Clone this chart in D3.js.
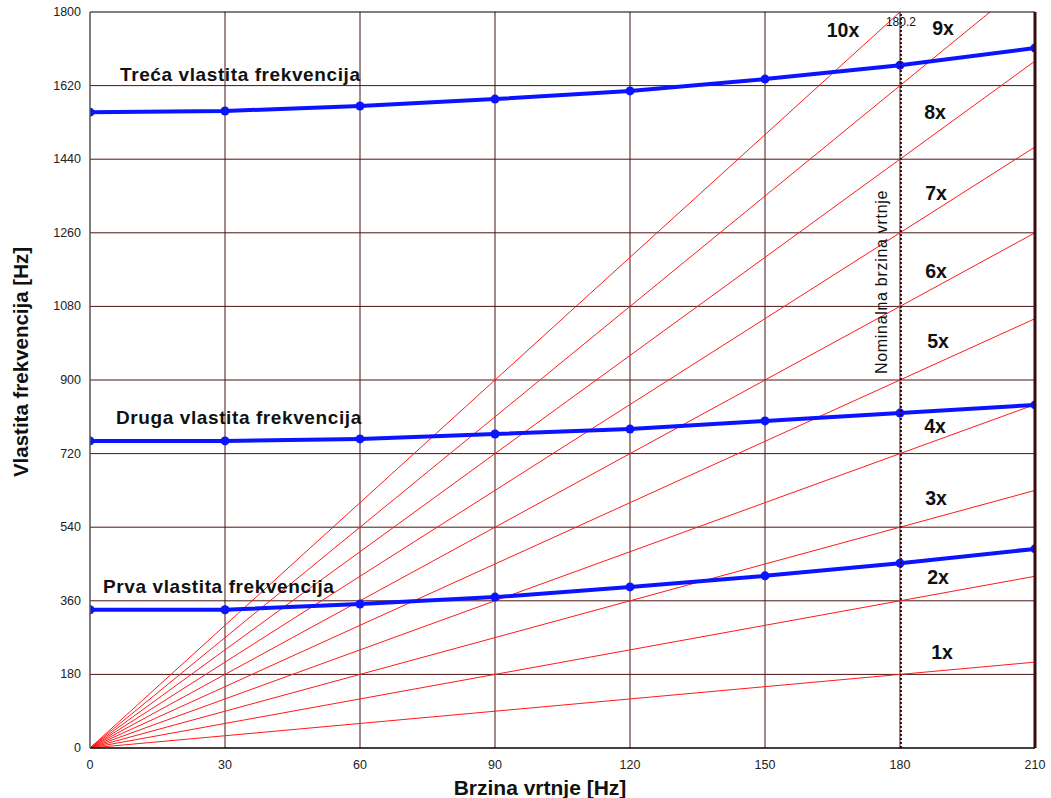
<!DOCTYPE html>
<html>
<head>
<meta charset="utf-8">
<title>Campbell</title>
<script src="https://cdn.jsdelivr.net/npm/d3@7"></script>
<style>
body { margin:0; background:#fff; }
text { font-family: Arial, "Liberation Sans", sans-serif; }
</style>
</head>
<body>
<div id="chart"></div>
<script>
// data
var speeds = [0, 30, 60, 90, 120, 150, 180, 210];
var prva = [338, 338, 352, 369, 394, 421, 452, 487];
var druga = [751, 751, 756, 768, 780, 800, 819, 839];
var treca = [1555, 1558, 1570, 1587, 1607, 1636, 1670, 1712];
var orders = [1, 2, 3, 4, 5, 6, 7, 8, 9, 10];
var xTicks = [0, 30, 60, 90, 120, 150, 180, 210];
var yTicks = [0, 180, 360, 540, 720, 900, 1080, 1260, 1440, 1620, 1800];
var nominal = 180.2;

var W = 1051, H = 798;
var m = {l: 90, r: 16, t: 12, b: 50};

var svg = d3.select("#chart").append("svg").attr("width", W).attr("height", H);

var x = d3.scaleLinear().domain([0, 210]).range([m.l, W - m.r]);
var y = d3.scaleLinear().domain([0, 1800]).range([H - m.b, m.t]);

svg.append("defs").append("clipPath").attr("id", "clip")
  .append("rect").attr("x", x(0)).attr("y", y(1800))
  .attr("width", x(210) - x(0)).attr("height", y(0) - y(1800));

var grid = "#4d1414";
// grid lines
svg.append("g").selectAll("line").data(xTicks.slice(1, -1)).enter().append("line")
  .attr("x1", d => x(d)).attr("x2", d => x(d)).attr("y1", y(0)).attr("y2", y(1800))
  .attr("stroke", grid).attr("stroke-width", 1);
svg.append("g").selectAll("line").data(yTicks.slice(1, -1)).enter().append("line")
  .attr("x1", x(0)).attr("x2", x(210)).attr("y1", d => y(d)).attr("y2", d => y(d))
  .attr("stroke", grid).attr("stroke-width", 1);

var plot = svg.append("g").attr("clip-path", "url(#clip)");

// order lines
plot.selectAll(".ord").data(orders).enter().append("line")
  .attr("x1", x(0)).attr("y1", y(0))
  .attr("x2", x(210)).attr("y2", k => y(k * 210))
  .attr("stroke", "#ff1a1a").attr("stroke-width", 1);

// nominal speed
svg.append("line").attr("x1", x(nominal)).attr("x2", x(nominal))
  .attr("y1", y(0)).attr("y2", y(1800))
  .attr("stroke", "#3a0808").attr("stroke-width", 2).attr("stroke-dasharray", "2,2");

// natural frequency curves
var line = d3.line().x((d, i) => x(speeds[i])).y(d => y(d));
[prva, druga, treca].forEach(function (s) {
  plot.append("path").datum(s).attr("d", line)
    .attr("fill", "none").attr("stroke", "#0a14ff").attr("stroke-width", 4);
  plot.selectAll(null).data(s).enter().append("circle")
    .attr("cx", (d, i) => x(speeds[i])).attr("cy", d => y(d)).attr("r", 4.5)
    .attr("fill", "#0a14ff");
});

// frame
svg.append("line").attr("x1", x(0)).attr("x2", x(210)).attr("y1", y(1800)).attr("y2", y(1800))
  .attr("stroke", "#000").attr("stroke-width", 1);
svg.append("line").attr("x1", x(0)).attr("x2", x(210)).attr("y1", y(0)).attr("y2", y(0))
  .attr("stroke", "#000").attr("stroke-width", 1.5);
svg.append("line").attr("x1", x(0)).attr("x2", x(0)).attr("y1", y(0)).attr("y2", y(1800))
  .attr("stroke", "#555").attr("stroke-width", 1.5);
svg.append("line").attr("x1", x(210)).attr("x2", x(210)).attr("y1", y(0)).attr("y2", y(1800))
  .attr("stroke", "#3a0a0a").attr("stroke-width", 3);

// tick labels
svg.append("g").selectAll("text").data(xTicks).enter().append("text")
  .attr("x", d => x(d)).attr("y", y(0) + 21).attr("text-anchor", "middle")
  .attr("font-size", 12.5).attr("fill", "#222").text(d => d);
svg.append("g").selectAll("text").data(yTicks).enter().append("text")
  .attr("x", x(0) - 9).attr("y", d => y(d) + 4).attr("text-anchor", "end")
  .attr("font-size", 12.5).attr("fill", "#222").text(d => d);

// axis titles
svg.append("text").attr("x", 540).attr("y", 795).attr("text-anchor", "middle")
  .attr("font-size", 21).attr("font-weight", "bold").attr("fill", "#111")
  .text("Brzina vrtnje [Hz]");
svg.append("text").attr("transform", "translate(28,362) rotate(-90)")
  .attr("text-anchor", "middle").attr("font-size", 20.5).attr("font-weight", "bold")
  .attr("fill", "#111").text("Vlastita frekvencija [Hz]");

// curve labels
var curveLabels = [
  {t: "Treća vlastita frekvencija", x: 120, y: 81},
  {t: "Druga vlastita frekvencija", x: 116, y: 424},
  {t: "Prva vlastita frekvencija", x: 103, y: 593}
];
svg.append("g").selectAll("text").data(curveLabels).enter().append("text")
  .attr("x", d => d.x).attr("y", d => d.y).attr("font-size", 19)
  .attr("font-weight", "bold").attr("fill", "#111").attr("letter-spacing", 0.6)
  .text(d => d.t);

// order labels
var orderLabelPos = [[942, 659], [938, 584], [936, 505], [935, 433], [938, 348],
  [936, 278], [936, 200], [935, 119], [943, 35], [843, 37]];
svg.append("g").selectAll("text").data(orders).enter().append("text")
  .attr("x", (k, i) => orderLabelPos[i][0]).attr("y", (k, i) => orderLabelPos[i][1])
  .attr("text-anchor", "middle").attr("font-size", 19.5).attr("font-weight", "bold")
  .attr("fill", "#111").text(k => k + "x");

// nominal labels
svg.append("text").attr("x", x(nominal)).attr("y", 26).attr("text-anchor", "middle")
  .attr("font-size", 12).attr("fill", "#111").text(nominal);
svg.append("text").attr("transform", "translate(887,282) rotate(-90)")
  .attr("text-anchor", "middle").attr("font-size", 16).attr("fill", "#111")
  .attr("letter-spacing", 0.7).text("Nominalna brzina vrtnje");
</script>
</body>
</html>
